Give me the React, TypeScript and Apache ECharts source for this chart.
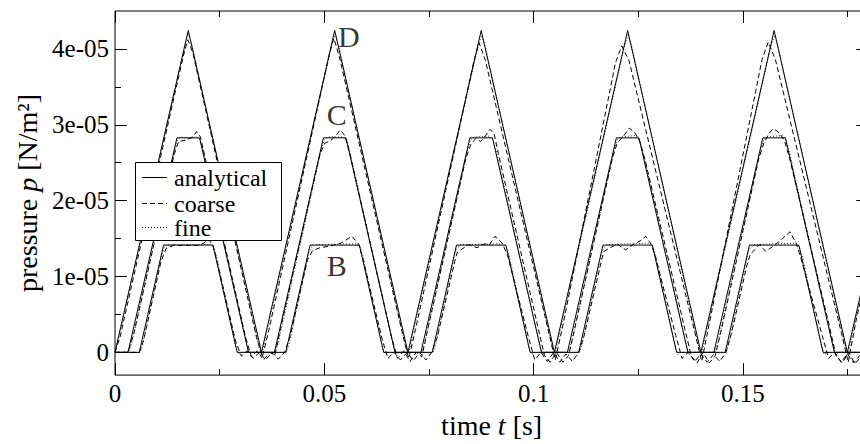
import React, { useEffect, useRef } from "react";
import * as echarts from "echarts";

const FONT = "'Liberation Serif', 'Times New Roman', serif";

const xTickValues = [0, 0.05, 0.1, 0.15];
const xMinorTickValues = [0.025, 0.075, 0.125, 0.175];
const yTickValues = [0, 1e-5, 2e-5, 3e-5, 4e-5];
const yMinorTickValues = [0.5e-5, 1.5e-5, 2.5e-5, 3.5e-5];

const legendNames = ["analytical", "coarse", "fine"];

const labelNames = ["B", "C", "D"];
const labelT = [0.053, 0.053, 0.0559];
const labelP = [1.15e-5, 3.14e-5, 4.166e-5];

// analytical solution (vertices of the piecewise-linear curves)
const D_analytical = [
  [0, 0], [0.0175, 4.243e-5], [0.035, 0], [0.0525, 4.243e-5], [0.07, 0], [0.0875, 4.243e-5],
  [0.105, 0], [0.1225, 4.243e-5], [0.14, 0], [0.1575, 4.243e-5], [0.175, 0], [0.18, 1.212e-5],
];
const C_analytical = [
  [0, 0], [0.0031, 0], [0.0148, 2.828e-5], [0.0202, 2.828e-5], [0.0319, 0],
  [0.0381, 0], [0.0498, 2.828e-5], [0.0552, 2.828e-5], [0.0669, 0],
  [0.0731, 0], [0.0848, 2.828e-5], [0.0902, 2.828e-5], [0.1019, 0],
  [0.1081, 0], [0.1198, 2.828e-5], [0.1252, 2.828e-5], [0.1369, 0],
  [0.1431, 0], [0.1548, 2.828e-5], [0.1602, 2.828e-5], [0.1719, 0],
  [0.1781, 0], [0.18, 0.46e-5],
];
const B_analytical = [
  [0, 0], [0.0058, 0], [0.0116, 1.414e-5], [0.0234, 1.414e-5], [0.0292, 0],
  [0.0408, 0], [0.0466, 1.414e-5], [0.0584, 1.414e-5], [0.0642, 0],
  [0.0758, 0], [0.0816, 1.414e-5], [0.0934, 1.414e-5], [0.0992, 0],
  [0.1108, 0], [0.1166, 1.414e-5], [0.1284, 1.414e-5], [0.1342, 0],
  [0.1458, 0], [0.1516, 1.414e-5], [0.1634, 1.414e-5], [0.1692, 0],
  [0.18, 0],
];

// fine grid solution
const D_fine = [
  [0, 0], [0.0168, 4.07e-5], [0.0176, 4.2e-5], [0.0184, 4.05e-5], [0.0345, 0.05e-5], [0.0352, 0], [0.036, 0.2e-5],
  [0.0518, 4.05e-5], [0.0526, 4.2e-5], [0.0534, 4.05e-5], [0.0695, 0.06e-5], [0.0702, -0.02e-5], [0.071, 0.2e-5],
  [0.0868, 4.05e-5], [0.0876, 4.18e-5], [0.0884, 4.05e-5], [0.1045, 0.06e-5], [0.1052, -0.03e-5], [0.106, 0.2e-5],
  [0.1218, 4.05e-5], [0.1226, 4.18e-5], [0.1234, 4.05e-5], [0.1395, 0.07e-5], [0.1402, -0.03e-5], [0.141, 0.2e-5],
  [0.1568, 4.05e-5], [0.1576, 4.17e-5], [0.1584, 4.04e-5], [0.1745, 0.08e-5], [0.1752, -0.04e-5], [0.176, 0.2e-5],
  [0.18, 1.17e-5],
];
const C_fine = [
  [0, 0], [0.0033, 0], [0.004, 0.12e-5], [0.0144, 2.7e-5], [0.015, 2.8e-5], [0.0158, 2.84e-5], [0.0175, 2.82e-5],
  [0.0195, 2.84e-5], [0.0203, 2.8e-5], [0.021, 2.68e-5], [0.0315, 0.1e-5], [0.0322, -0.02e-5], [0.033, 0],
  [0.0383, 0], [0.039, 0.12e-5], [0.0494, 2.7e-5], [0.05, 2.8e-5], [0.0508, 2.84e-5], [0.0545, 2.84e-5],
  [0.0553, 2.8e-5], [0.056, 2.68e-5], [0.0665, 0.1e-5], [0.0672, -0.02e-5], [0.068, 0],
  [0.0733, 0], [0.074, 0.12e-5], [0.0844, 2.7e-5], [0.085, 2.8e-5], [0.0858, 2.84e-5], [0.0895, 2.85e-5],
  [0.0903, 2.8e-5], [0.091, 2.68e-5], [0.1015, 0.1e-5], [0.1022, -0.03e-5], [0.103, 0],
  [0.1083, 0], [0.109, 0.12e-5], [0.1194, 2.7e-5], [0.12, 2.8e-5], [0.1208, 2.84e-5], [0.1245, 2.86e-5],
  [0.1253, 2.8e-5], [0.126, 2.68e-5], [0.1365, 0.1e-5], [0.1372, -0.03e-5], [0.138, 0],
  [0.1433, 0], [0.144, 0.12e-5], [0.1544, 2.7e-5], [0.155, 2.8e-5], [0.1558, 2.84e-5], [0.1595, 2.86e-5],
  [0.1603, 2.8e-5], [0.161, 2.68e-5], [0.1715, 0.1e-5], [0.1722, -0.03e-5], [0.173, 0], [0.1783, 0], [0.18, 0.4e-5],
];
const B_fine = [
  [0, 0], [0.006, 0], [0.0066, 0.1e-5], [0.0112, 1.3e-5], [0.0118, 1.38e-5], [0.0126, 1.42e-5], [0.0228, 1.42e-5],
  [0.0236, 1.38e-5], [0.0242, 1.28e-5], [0.0288, 0.08e-5], [0.0295, -0.02e-5], [0.0302, 0],
  [0.041, 0], [0.0416, 0.1e-5], [0.0462, 1.3e-5], [0.0468, 1.38e-5], [0.0476, 1.42e-5], [0.0578, 1.43e-5],
  [0.0586, 1.38e-5], [0.0592, 1.28e-5], [0.0638, 0.08e-5], [0.0645, -0.02e-5], [0.0652, 0],
  [0.076, 0], [0.0766, 0.1e-5], [0.0812, 1.3e-5], [0.0818, 1.38e-5], [0.0826, 1.42e-5], [0.0928, 1.43e-5],
  [0.0936, 1.38e-5], [0.0942, 1.28e-5], [0.0988, 0.08e-5], [0.0995, -0.03e-5], [0.1002, 0],
  [0.111, 0], [0.1116, 0.1e-5], [0.1162, 1.3e-5], [0.1168, 1.38e-5], [0.1176, 1.42e-5], [0.1278, 1.44e-5],
  [0.1286, 1.38e-5], [0.1292, 1.28e-5], [0.1338, 0.08e-5], [0.1345, -0.03e-5], [0.1352, 0],
  [0.146, 0], [0.1466, 0.1e-5], [0.1512, 1.3e-5], [0.1518, 1.38e-5], [0.1526, 1.42e-5], [0.1628, 1.44e-5],
  [0.1636, 1.38e-5], [0.1642, 1.28e-5], [0.1688, 0.08e-5], [0.1695, -0.03e-5], [0.1702, 0], [0.18, 0],
];

// coarse grid solution
const D_coarse = [
  [0, 0], [0.0012, 0.2e-5], [0.0163, 3.9e-5], [0.0174, 4.12e-5], [0.0186, 3.95e-5], [0.0338, 0.2e-5], [0.0352, -0.06e-5], [0.0368, 0.3e-5],
  [0.0512, 3.93e-5], [0.0523, 4.14e-5], [0.0536, 3.9e-5], [0.0688, 0.22e-5], [0.0702, -0.08e-5], [0.0718, 0.3e-5],
  [0.0858, 3.85e-5], [0.087, 4.08e-5], [0.0885, 3.85e-5], [0.1037, 0.25e-5], [0.1052, -0.1e-5], [0.107, 0.35e-5],
  [0.1196, 3.82e-5], [0.1211, 4.04e-5], [0.1228, 3.85e-5], [0.1386, 0.25e-5], [0.1402, -0.12e-5], [0.142, 0.38e-5],
  [0.1546, 3.86e-5], [0.1561, 4.09e-5], [0.1578, 3.86e-5], [0.1736, 0.25e-5], [0.1752, -0.13e-5], [0.1772, 0.45e-5],
  [0.18, 1.12e-5],
];
const C_coarse = [
  [0, 0], [0.0031, 0], [0.0045, 0.25e-5], [0.0142, 2.62e-5], [0.0152, 2.78e-5], [0.0172, 2.8e-5], [0.0186, 2.84e-5],
  [0.0195, 2.91e-5], [0.0204, 2.84e-5], [0.0214, 2.6e-5], [0.0312, 0.2e-5], [0.0326, -0.06e-5], [0.034, 0.02e-5],
  [0.0355, -0.1e-5], [0.037, 0], [0.0382, -0.04e-5], [0.0395, 0.3e-5],
  [0.049, 2.62e-5], [0.0502, 2.76e-5], [0.0515, 2.79e-5], [0.0528, 2.86e-5], [0.0538, 2.93e-5], [0.0549, 2.86e-5],
  [0.0562, 2.6e-5], [0.066, 0.22e-5], [0.0675, -0.08e-5], [0.069, 0.02e-5], [0.0705, -0.12e-5], [0.072, 0],
  [0.0733, -0.06e-5], [0.0747, 0.3e-5],
  [0.0838, 2.55e-5], [0.085, 2.74e-5], [0.0862, 2.82e-5], [0.0874, 2.78e-5], [0.0886, 2.86e-5], [0.0896, 2.94e-5],
  [0.0906, 2.88e-5], [0.0916, 2.62e-5], [0.1012, 0.3e-5], [0.1026, -0.04e-5], [0.104, -0.13e-5], [0.1055, 0],
  [0.107, -0.13e-5], [0.1084, -0.04e-5], [0.1098, 0.3e-5],
  [0.1188, 2.55e-5], [0.12, 2.76e-5], [0.1215, 2.85e-5], [0.1229, 2.956e-5], [0.1242, 2.9e-5], [0.1254, 2.78e-5],
  [0.1266, 2.55e-5], [0.1362, 0.3e-5], [0.1377, -0.05e-5], [0.1391, -0.14e-5], [0.1405, 0], [0.142, -0.14e-5],
  [0.1434, -0.05e-5], [0.1449, 0.3e-5],
  [0.1538, 2.55e-5], [0.155, 2.75e-5], [0.1562, 2.88e-5], [0.1573, 2.95e-5], [0.1586, 2.9e-5], [0.1599, 2.8e-5],
  [0.1612, 2.56e-5], [0.1708, 0.32e-5], [0.1723, -0.05e-5], [0.1738, -0.14e-5], [0.1753, 0], [0.1768, -0.15e-5],
  [0.1782, -0.06e-5], [0.18, 0.35e-5],
];
const B_coarse = [
  [0, 0], [0.0058, 0], [0.0068, 0.15e-5], [0.011, 1.2e-5], [0.0122, 1.37e-5], [0.014, 1.41e-5], [0.02, 1.41e-5],
  [0.0212, 1.44e-5], [0.0223, 1.49e-5], [0.0234, 1.41e-5], [0.0244, 1.2e-5], [0.0288, 0.15e-5], [0.0302, -0.05e-5],
  [0.0316, 0.02e-5], [0.033, -0.08e-5], [0.0345, 0], [0.036, -0.1e-5], [0.0375, 0], [0.039, -0.09e-5], [0.0405, 0],
  [0.0418, 0.2e-5],
  [0.046, 1.22e-5], [0.0472, 1.34e-5], [0.049, 1.38e-5], [0.0514, 1.4e-5], [0.054, 1.44e-5], [0.0566, 1.53e-5],
  [0.0582, 1.43e-5], [0.0594, 1.2e-5], [0.0638, 0.18e-5], [0.0652, -0.08e-5], [0.0667, 0], [0.0682, -0.1e-5],
  [0.0698, 0], [0.0713, -0.11e-5], [0.0728, 0], [0.0743, -0.1e-5], [0.0757, 0], [0.077, 0.2e-5],
  [0.0812, 1.2e-5], [0.0818, 1.32e-5], [0.0845, 1.42e-5], [0.0865, 1.38e-5], [0.0883, 1.43e-5], [0.0895, 1.42e-5],
  [0.0908, 1.53e-5], [0.0925, 1.44e-5], [0.0938, 1.28e-5], [0.0988, 0.2e-5], [0.1003, -0.1e-5], [0.1018, 0],
  [0.1033, -0.12e-5], [0.1048, 0], [0.1063, -0.13e-5], [0.1078, -0.02e-5], [0.1093, -0.12e-5], [0.1108, 0],
  [0.1121, 0.22e-5],
  [0.1162, 1.2e-5], [0.1168, 1.33e-5], [0.12, 1.43e-5], [0.122, 1.35e-5], [0.1238, 1.42e-5], [0.1255, 1.47e-5],
  [0.1268, 1.53e-5], [0.1282, 1.42e-5], [0.1292, 1.25e-5], [0.134, 0.22e-5], [0.1355, -0.08e-5], [0.137, 0],
  [0.1385, -0.12e-5], [0.14, -0.02e-5], [0.1415, -0.13e-5], [0.143, -0.03e-5], [0.1445, -0.12e-5], [0.146, 0],
  [0.1473, 0.25e-5],
  [0.151, 1.15e-5], [0.1518, 1.29e-5], [0.154, 1.42e-5], [0.1555, 1.33e-5], [0.1578, 1.42e-5], [0.1595, 1.5e-5],
  [0.1613, 1.59e-5], [0.1629, 1.42e-5], [0.164, 1.22e-5], [0.169, 0.22e-5], [0.1705, -0.08e-5], [0.172, 0],
  [0.1735, -0.13e-5], [0.175, -0.02e-5], [0.1765, -0.14e-5], [0.178, -0.04e-5], [0.18, -0.12e-5],
];

const X_MIN = 0;
const X_MAX = 0.18;
const Y_MIN = -0.3e-5;
const Y_MAX = 4.5e-5;

function fmtY(v: number): string {
  if (Math.abs(v) < 1e-12) return "0";
  return v.toExponential(0).replace(/e([+-])(\d)$/, "e$10$2");
}

export default function App() {
  const ref = useRef<HTMLDivElement>(null);

  useEffect(() => {
    if (!ref.current) return;
    const chart = echarts.init(ref.current, null, { renderer: "svg" });

    const black = "#000";
    const tickFont = { color: black, fontFamily: FONT, fontSize: 25 };

    const xAxisBase = (position: string, values: number[], length: number, labels: boolean, extra: any = {}) => ({
      type: "value",
      position,
      min: X_MIN,
      max: X_MAX,
      axisLine: { show: false, onZero: false },
      axisTick: { show: true, inside: true, length, customValues: values, lineStyle: { color: black, width: 1 } },
      axisLabel: labels
        ? { show: true, customValues: values, margin: 6, ...tickFont, formatter: (v: number) => String(v) }
        : { show: false },
      splitLine: { show: false },
      ...extra,
    });
    const yAxisBase = (position: string, values: number[], length: number, labels: boolean, extra: any = {}) => ({
      type: "value",
      position,
      min: Y_MIN,
      max: Y_MAX,
      axisLine: { show: false, onZero: false },
      axisTick: { show: true, inside: true, length, customValues: values, lineStyle: { color: black, width: 1 } },
      axisLabel: labels
        ? { show: true, customValues: values, margin: 6, ...tickFont, formatter: (v: number) => fmtY(v) }
        : { show: false },
      splitLine: { show: false },
      ...extra,
    });

    const lineSeries = (name: string, data: number[][], type: any, color: string, z: number) => ({
      type: "line",
      name,
      data,
      showSymbol: false,
      symbol: "none",
      lineStyle: { color, width: 1, type },
      z,
      silent: true,
    });

    const legendY = [177, 203, 227];
    const legendTextY = [178, 204, 228];
    const legendDash: any[] = [null, [5, 3], [1, 2]];

    const graphic: any[] = [
      {
        type: "rect",
        z: 100,
        shape: { x: 135.5, y: 162.5, width: 146, height: 78 },
        style: { fill: "#fff", stroke: black, lineWidth: 1 },
      },
    ];
    legendNames.forEach((n, i) => {
      graphic.push({
        type: "line",
        z: 101,
        shape: { x1: 142, y1: legendY[i] + 0.5, x2: 167, y2: legendY[i] + 0.5 },
        style: { stroke: black, lineWidth: 1, lineDash: legendDash[i] || undefined },
      });
      graphic.push({
        type: "text",
        z: 101,
        x: 174,
        y: legendTextY[i],
        style: {
          text: n,
          fill: black,
          font: `24px ${FONT}`,
          lineHeight: 20,
          textAlign: "left",
          textVerticalAlign: "middle",
          verticalAlign: "middle",
        },
      });
    });

    const nameStyle = {
      color: black,
      fontFamily: FONT,
      fontSize: 28,
      rich: { i: { fontStyle: "italic", fontFamily: FONT, fontSize: 28, color: black } },
    };

    chart.setOption({
      animation: false,
      backgroundColor: "#fff",
      grid: {
        left: 115,
        top: 11,
        right: 11.7,
        bottom: 57.5,
        show: true,
        borderColor: black,
        borderWidth: 1,
        backgroundColor: "transparent",
        containLabel: false,
      },
      xAxis: [
        xAxisBase("bottom", xTickValues, 12, true, {
          name: "time {i|t} [s]",
          nameLocation: "middle",
          nameGap: 25,
          nameTextStyle: nameStyle,
        }),
        xAxisBase("top", xTickValues, 12, false),
        xAxisBase("bottom", xMinorTickValues, 6, false),
        xAxisBase("top", xMinorTickValues, 6, false),
      ],
      yAxis: [
        yAxisBase("left", yTickValues, 12, true, {
          name: "pressure {i|p} [N/m²]",
          nameLocation: "middle",
          nameGap: 72,
          nameTextStyle: nameStyle,
        }),
        yAxisBase("right", yTickValues, 12, false),
        yAxisBase("left", yMinorTickValues, 6, false),
        yAxisBase("right", yMinorTickValues, 6, false),
      ],
      series: [
        lineSeries("fine B", B_fine, [1, 2], "#333", 2),
        lineSeries("fine C", C_fine, [1, 2], "#333", 2),
        lineSeries("fine D", D_fine, [1, 2], "#333", 2),
        lineSeries("coarse B", B_coarse, [5, 3], black, 3),
        lineSeries("coarse C", C_coarse, [5, 3], black, 3),
        lineSeries("coarse D", D_coarse, [5, 3], black, 3),
        lineSeries("analytical B", B_analytical, "solid", black, 4),
        lineSeries("analytical C", C_analytical, "solid", black, 4),
        lineSeries("analytical D", D_analytical, "solid", black, 4),
        {
          type: "scatter",
          name: "labels",
          silent: true,
          symbolSize: 1,
          itemStyle: { color: "transparent" },
          data: labelNames.map((n, i) => ({ name: n, value: [labelT[i], labelP[i]] })),
          label: {
            show: true,
            position: "inside",
            formatter: "{b}",
            color: black,
            fontFamily: FONT,
            fontSize: 30,
          },
          z: 6,
        },
      ],
      graphic,
    });

    return () => chart.dispose();
  }, []);

  return (
    <div
      style={{
        position: "fixed",
        left: 0,
        top: 0,
        width: 860,
        height: 444,
        overflow: "hidden",
        background: "#fff",
      }}
    >
      <div ref={ref} style={{ width: 880, height: 444 }} />
    </div>
  );
}
